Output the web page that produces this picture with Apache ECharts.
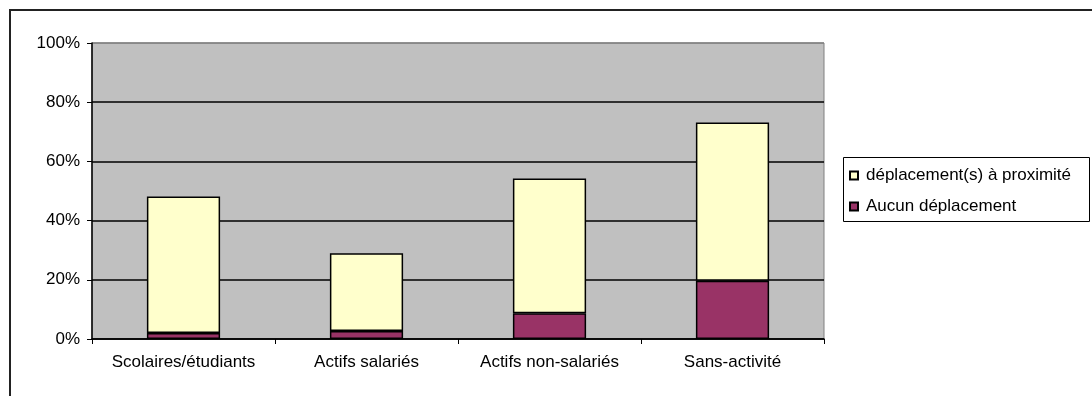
<!DOCTYPE html>
<html>
<head>
<meta charset="utf-8">
<script src="https://cdn.jsdelivr.net/npm/echarts@6/dist/echarts.min.js"></script>
<style>
html,body{margin:0;padding:0;background:#fff;}
#chart{width:1092px;height:396px;}
</style>
</head>
<body>
<div id="chart"></div>
<script>
var categories = ['Scolaires/étudiants', 'Actifs salariés', 'Actifs non-salariés', 'Sans-activité'];
var aucunDeplacement = [2.0, 2.7, 8.7, 19.7];
var deplacementProximite = [46.1, 26.3, 45.5, 53.4];
var seriesNames = ['Aucun déplacement', 'déplacement(s) à proximité'];
var yTicks = [0, 20, 40, 60, 80, 100];

var FONT = '"Liberation Sans", Arial, sans-serif';
var chart = echarts.init(document.getElementById('chart'), null, {renderer: 'canvas'});
chart.setOption({
  animation: false,
  backgroundColor: '#fff',
  textStyle: {fontFamily: FONT},
  graphic: [
    {type: 'rect', shape: {x: 10, y: 10, width: 1200, height: 500}, style: {fill: 'none', stroke: '#222', lineWidth: 2}, z: 0},
    {type: 'rect', shape: {x: 843.5, y: 157.5, width: 246, height: 64}, style: {fill: '#fff', stroke: '#000', lineWidth: 1}, z: 1}
  ],
  legend: {
    orient: 'vertical',
    left: 849,
    top: 167,
    padding: 0,
    itemWidth: 8,
    itemHeight: 8,
    itemGap: 14,
    icon: 'rect',
    data: [seriesNames[1], seriesNames[0]],
    textStyle: {fontFamily: FONT, fontSize: 17, color: '#000', padding: [0, 0, 0, 3]},
    z: 5
  },
  grid: {
    left: 92, top: 43, right: 268, bottom: 57,
    show: true, backgroundColor: '#c0c0c0', borderColor: '#808080', borderWidth: 1
  },
  xAxis: {
    type: 'category',
    data: categories,
    axisLine: {lineStyle: {color: '#000', width: 1.5}},
    axisTick: {show: true, length: 5, lineStyle: {color: '#000'}},
    axisLabel: {color: '#000', fontSize: 17, fontFamily: FONT, margin: 15, interval: 0}
  },
  yAxis: {
    type: 'value',
    min: yTicks[0], max: yTicks[yTicks.length - 1], interval: 20,
    axisLine: {show: true, lineStyle: {color: '#000', width: 1.5}},
    axisTick: {show: true, length: 5, lineStyle: {color: '#000'}},
    axisLabel: {color: '#000', fontSize: 17, fontFamily: FONT, margin: 12, formatter: '{value}%'},
    splitLine: {show: true, lineStyle: {color: ['#000', '#000', '#000', '#000', '#000', '#808080'], width: 1.5}}
  },
  series: [
    {
      name: seriesNames[0], type: 'bar', stack: 'total', data: aucunDeplacement,
      barCategoryGap: '60%',
      itemStyle: {color: '#993366', borderColor: '#000', borderWidth: 1.5}
    },
    {
      name: seriesNames[1], type: 'bar', stack: 'total', data: deplacementProximite,
      barCategoryGap: '60%',
      itemStyle: {color: '#ffffcc', borderColor: '#000', borderWidth: 1.5}
    }
  ]
});
</script>
</body>
</html>
